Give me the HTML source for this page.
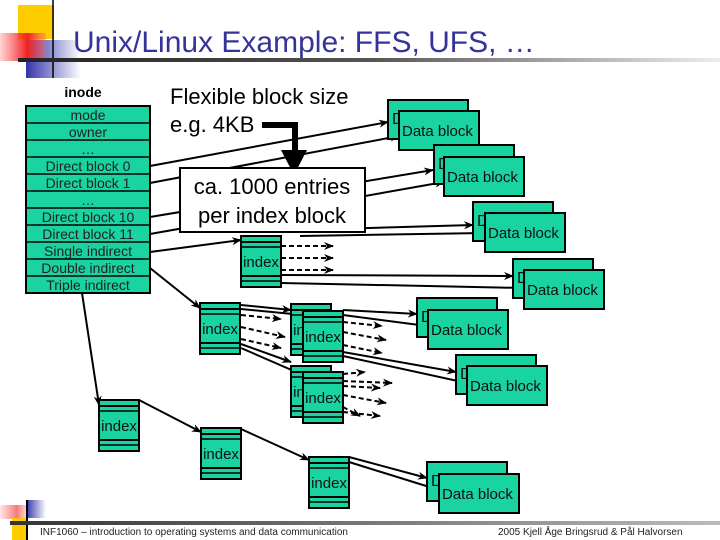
<!DOCTYPE html>
<html><head><meta charset="utf-8"><style>
html,body{margin:0;padding:0;background:#fff;}
svg{display:block;}
text{font-family:"Liberation Sans","DejaVu Sans",sans-serif;}
</style></head><body>
<svg width="720" height="540" viewBox="0 0 720 540" xmlns="http://www.w3.org/2000/svg">
<defs>
<linearGradient id="red" x1="0" x2="1"><stop offset="0" stop-color="#ff3333" stop-opacity="0.2"/><stop offset="0.6" stop-color="#ee2222"/><stop offset="1" stop-color="#ff6666" stop-opacity="0.4"/></linearGradient>
<linearGradient id="blu" x1="0" x2="1"><stop offset="0" stop-color="#3333aa"/><stop offset="1" stop-color="#3333aa" stop-opacity="0"/></linearGradient>
<linearGradient id="hl" x1="0" x2="1"><stop offset="0" stop-color="#222"/><stop offset="0.5" stop-color="#555"/><stop offset="1" stop-color="#eee"/></linearGradient>
<linearGradient id="fl" x1="0" x2="1"><stop offset="0" stop-color="#333"/><stop offset="1" stop-color="#bbb"/></linearGradient>
<marker id="a" markerWidth="10" markerHeight="8" refX="9" refY="4" orient="auto" markerUnits="userSpaceOnUse"><path d="M0,0 L10,4 L0,8 L3,4 z" fill="#000"/></marker>
<g id="idx"><rect x="0" y="0" width="40" height="51" fill="#19d3a0" stroke="#000" stroke-width="2"/><line x1="0" y1="6" x2="40" y2="6" stroke="#000" stroke-width="2"/><line x1="0" y1="11" x2="40" y2="11" stroke="#000" stroke-width="1.5"/><line x1="0" y1="40" x2="40" y2="40" stroke="#000" stroke-width="2"/><line x1="0" y1="45" x2="40" y2="45" stroke="#000" stroke-width="1.5"/><text x="20" y="31" font-size="15" text-anchor="middle" fill="#111">index</text></g>
<g id="db"><rect x="0" y="0" width="80" height="39" fill="#19d3a0" stroke="#000" stroke-width="2"/><text x="4" y="24" font-size="16" fill="#111">D</text></g>
<g id="db2"><rect x="0" y="0" width="80" height="39" fill="#19d3a0" stroke="#000" stroke-width="2"/><text x="3" y="25" font-size="15" fill="#111">Data block</text></g>
</defs>

<!-- title decoration -->
<rect x="18" y="5" width="36" height="34" fill="#ffcc00"/>
<rect x="26" y="40" width="55" height="38" fill="url(#blu)"/>
<rect x="0" y="33" width="46" height="28" fill="url(#red)"/>
<line x1="53" y1="0" x2="53" y2="78" stroke="#000" stroke-width="1.5"/>
<rect x="18" y="58" width="702" height="4" fill="url(#hl)"/>
<text x="73" y="52" font-size="30" fill="#333399">Unix/Linux Example: FFS, UFS, …</text>

<!-- connectors (behind) -->
<g stroke="#000" stroke-width="2" fill="none" marker-end="url(#a)">
<line x1="150" y1="166" x2="388" y2="122"/>
<line x1="150" y1="183" x2="399" y2="136"/>
<line x1="150" y1="217" x2="433" y2="170"/>
<line x1="150" y1="234" x2="444" y2="182"/>
<line x1="300" y1="230" x2="473" y2="225"/>
<line x1="300" y1="236" x2="485" y2="233"/>
<line x1="150" y1="252" x2="241" y2="240"/>
<line x1="281" y1="275" x2="513" y2="276"/>
<line x1="281" y1="283" x2="524" y2="288"/>
<line x1="150" y1="268" x2="200" y2="308"/>
<line x1="82" y1="293" x2="99" y2="405"/>
<line x1="241" y1="305" x2="291" y2="310"/>
<line x1="241" y1="309" x2="303" y2="315"/>
<line x1="241" y1="344" x2="291" y2="362"/>
<line x1="241" y1="348" x2="303" y2="375"/>
<line x1="343" y1="310" x2="417" y2="314"/>
<line x1="343" y1="315" x2="427" y2="326"/>
<line x1="343" y1="352" x2="456" y2="372"/>
<line x1="343" y1="356" x2="467" y2="383"/>
<line x1="139" y1="400" x2="201" y2="432"/>
<line x1="241" y1="429" x2="309" y2="460"/>
<line x1="349" y1="457" x2="427" y2="478"/>
<line x1="349" y1="462" x2="439" y2="490"/>
</g>
<g stroke="#000" stroke-width="2" fill="none" stroke-dasharray="5,3" marker-end="url(#a)">
<line x1="281" y1="246" x2="333" y2="246"/>
<line x1="281" y1="258" x2="333" y2="258"/>
<line x1="281" y1="270" x2="333" y2="270"/>
<line x1="241" y1="315" x2="281" y2="319"/>
<line x1="241" y1="327" x2="285" y2="337"/>
<line x1="241" y1="339" x2="281" y2="348"/>
<line x1="343" y1="322" x2="382" y2="326"/>
<line x1="343" y1="332" x2="386" y2="340"/>
<line x1="343" y1="345" x2="382" y2="353"/>
<line x1="343" y1="374" x2="365" y2="372"/>
<line x1="343" y1="381" x2="392" y2="383"/>
<line x1="343" y1="386" x2="380" y2="388"/>
<line x1="343" y1="395" x2="386" y2="403"/>
<line x1="343" y1="407" x2="360" y2="416"/>
<line x1="343" y1="412" x2="380" y2="416"/>
</g>

<!-- inode -->
<text x="83" y="97" font-size="14" font-weight="bold" text-anchor="middle">inode</text>
<g font-size="14" fill="#222" text-anchor="middle">
<rect x="26" y="106" width="124" height="187" fill="#19d3a0" stroke="#000" stroke-width="2"/>
<g stroke="#000" stroke-width="1.5">
<line x1="26" y1="123" x2="150" y2="123"/><line x1="26" y1="140" x2="150" y2="140"/><line x1="26" y1="157" x2="150" y2="157"/><line x1="26" y1="174" x2="150" y2="174"/><line x1="26" y1="191" x2="150" y2="191"/><line x1="26" y1="208" x2="150" y2="208"/><line x1="26" y1="225" x2="150" y2="225"/><line x1="26" y1="242" x2="150" y2="242"/><line x1="26" y1="259" x2="150" y2="259"/><line x1="26" y1="276" x2="150" y2="276"/>
</g>
<text x="88" y="120">mode</text><text x="88" y="137">owner</text><text x="88" y="154">…</text>
<text x="88" y="171">Direct block 0</text><text x="88" y="188">Direct block 1</text><text x="88" y="205">…</text>
<text x="88" y="222">Direct block 10</text><text x="88" y="239">Direct block 11</text>
<text x="88" y="256">Single indirect</text><text x="88" y="273">Double indirect</text><text x="88" y="290">Triple indirect</text>
</g>

<!-- flexible block size -->
<text x="170" y="104" font-size="22">Flexible block size</text>
<text x="170" y="132" font-size="22">e.g. 4KB</text>
<path d="M262,125 L295,125 L295,152" stroke="#000" stroke-width="6" fill="none"/>
<path d="M281,150 L307,150 L294,175 z" fill="#000"/>
<rect x="180" y="168" width="185" height="64" fill="#fff" stroke="#000" stroke-width="2"/>
<text x="272" y="194" font-size="22" text-anchor="middle">ca. 1000 entries</text>
<text x="272" y="223" font-size="22" text-anchor="middle">per index block</text>

<!-- index blocks -->
<use href="#idx" x="241" y="236"/>
<use href="#idx" x="200" y="303"/>
<use href="#idx" x="291" y="304"/>
<use href="#idx" x="303" y="311"/>
<use href="#idx" x="291" y="366"/>
<use href="#idx" x="303" y="372"/>
<use href="#idx" x="99" y="400"/>
<use href="#idx" x="201" y="428"/>
<use href="#idx" x="309" y="457"/>

<!-- data blocks -->
<use href="#db" x="388" y="100"/><use href="#db2" x="399" y="111"/>
<use href="#db" x="434" y="145"/><use href="#db2" x="444" y="157"/>
<use href="#db" x="473" y="202"/><use href="#db2" x="485" y="213"/>
<use href="#db" x="513" y="259"/><use href="#db2" x="524" y="270"/>
<use href="#db" x="417" y="298"/><use href="#db2" x="428" y="310"/>
<use href="#db" x="456" y="355"/><use href="#db2" x="467" y="366"/>
<use href="#db" x="427" y="462"/><use href="#db2" x="439" y="474"/>

<!-- footer -->
<rect x="0" y="505" width="28" height="14" fill="url(#red)" opacity="0.6"/>
<rect x="12" y="518" width="14" height="22" fill="#ffcc00"/>
<rect x="26" y="500" width="20" height="18" fill="url(#blu)"/>
<line x1="27" y1="500" x2="27" y2="540" stroke="#000" stroke-width="2"/>
<rect x="10" y="521" width="710" height="4" fill="url(#fl)"/>
<text x="40" y="535" font-size="10" fill="#222">INF1060 – introduction to operating systems and data communication</text>
<text x="498" y="535" font-size="10" fill="#222">2005  Kjell Åge Bringsrud &amp; Pål Halvorsen</text>
</svg>
</body></html>
